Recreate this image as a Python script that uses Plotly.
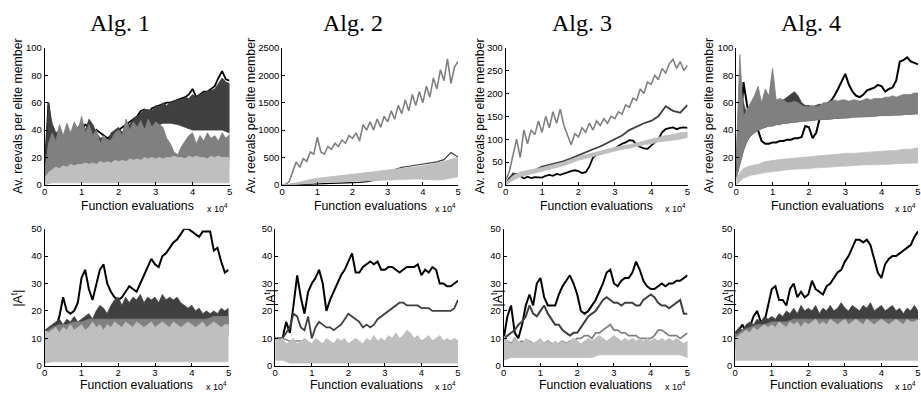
import plotly.graph_objects as go

W, H = 921, 398
BLACK, DARK, MID, LIGHT = '#000000', '#404040', '#808080', '#bfbfbf'

# sample positions (function evaluations)
X_FINE = list(range(0, 50001, 1000))    # 51 samples
X_COARSE = list(range(0, 50001, 2000))  # 26 samples
X_TICKS = [0, 10000, 20000, 30000, 40000, 50000]
X_TICKTEXT = ['0', '1', '2', '3', '4', '5']

TITLES = ['Alg. 1', 'Alg. 2', 'Alg. 3', 'Alg. 4']
TOP_YMAX = [100, 2500, 300, 100]
TOP_YTICKS = [[0, 20, 40, 60, 80, 100],
              [0, 500, 1000, 1500, 2000, 2500],
              [0, 50, 100, 150, 200, 250, 300],
              [0, 20, 40, 60, 80, 100]]
BOT_YMAX = 50
BOT_YTICKS = [0, 10, 20, 30, 40, 50]

# ---------------- Alg. 1, top ----------------
A1T_BLACK = [8, 60, 35, 25, 18, 17, 25, 30, 35, 38, 40, 44, 42, 32, 40, 38, 36, 34, 36, 38, 40, 42, 44, 46, 48, 50,
             54, 55, 52, 56, 57, 58, 59, 60, 60, 61, 62, 63, 64, 66, 70, 64, 66, 68, 68, 70, 72, 78, 83, 77, 76]
A1T_DARK_LO = [5, 25, 25, 28, 30, 30, 35, 32, 30, 30, 32, 35, 38, 40, 42, 43, 45, 45, 44, 42, 40, 40, 40, 40, 40, 38]
A1T_DARK_HI = [10, 60, 45, 38, 40, 35, 38, 33, 40, 42, 46, 40, 48, 44, 38, 34, 35, 32, 38, 40, 42, 38, 45, 44, 48, 50,
               52, 55, 55, 54, 58, 57, 60, 58, 60, 61, 62, 62, 64, 63, 66, 64, 66, 67, 68, 69, 70, 74, 78, 75, 74]
A1T_MID_LO = [3, 10, 11, 12, 12, 13, 13, 14, 14, 15, 15, 16, 16, 17, 17, 17, 17, 18, 18, 18, 18, 18, 18, 18, 18, 18]
A1T_MID_HI = [10, 30, 38, 32, 44, 36, 45, 38, 46, 40, 50, 38, 44, 36, 40, 30, 36, 32, 33, 38, 40, 36, 48, 40, 46, 42,
              47, 40, 48, 42, 46, 44, 42, 34, 30, 24, 22, 28, 32, 36, 38, 30, 36, 32, 38, 34, 36, 32, 38, 34, 37]
A1T_LIGHT_LO = [0, 1.5, 1.5, 1.5, 1.5, 1.5, 1.5, 1.5, 1.5, 1.5, 1.5, 1.5, 1.5, 1.5, 1.5, 1.5, 1.5, 1.5, 1.5, 1.5,
                1.5, 1.5, 1.5, 1.5, 1.5, 1.5]
A1T_LIGHT_HI = [5, 9, 11, 13, 12, 14, 13, 15, 14, 15, 15, 16, 15, 16, 15, 17, 16, 17, 16, 18, 17, 18, 17, 19, 18, 19,
                18, 20, 19, 20, 19, 20, 19, 20, 20, 21, 20, 20, 19, 21, 20, 21, 20, 20, 19, 21, 20, 21, 20, 20, 20]

# ---------------- Alg. 2, top ----------------
A2T_BLACK = [0, 0, 5, 10, 15, 20, 22, 25, 28, 30, 35, 45, 60, 80, 100, 125, 150, 175, 200, 240, 275, 290, 300, 315,
             335, 360]
A2T_DARK = [0, 5, 25, 50, 70, 90, 100, 105, 115, 125, 137, 155, 180, 205, 225, 245, 280, 320, 340, 360, 375, 395,
            420, 460, 590, 510]
A2T_MID = [0, 10, 60, 250, 420, 320, 480, 430, 600, 560, 870, 600, 560, 700, 650, 760, 700, 820, 760, 900, 850, 950,
           800, 1100, 1000, 1150, 1000, 1200, 1050, 1250, 1150, 1350, 1200, 1450, 1300, 1550, 1350, 1650, 1450, 1700,
           1500, 1800, 1600, 1950, 1750, 2100, 1900, 2300, 1850, 2150, 2250]
A2T_LIGHT_LO = [0, 0, 5, 15, 25, 40, 50, 55, 60, 65, 70, 75, 80, 85, 90, 95, 100, 100, 105, 110, 110, 100, 90, 100,
                120, 150]
A2T_LIGHT_HI = [0, 5, 35, 70, 100, 120, 135, 150, 165, 180, 195, 210, 225, 240, 250, 260, 275, 290, 310, 330, 350,
                370, 395, 430, 470, 500]

# ---------------- Alg. 3, top ----------------
A3T_BLACK = [0, 15, 22, 18, 20, 14, 18, 15, 17, 16, 16, 20, 22, 20, 24, 22, 25, 28, 30, 32, 30, 26, 28, 40, 60, 66,
             68, 72, 74, 77, 79, 85, 90, 93, 98, 97, 88, 83, 80, 79, 86, 92, 100, 115, 122, 124, 126, 122, 125, 126, 125]
A3T_DARK = [0, 25, 22, 28, 32, 40, 44, 48, 52, 58, 65, 72, 78, 84, 92, 100, 108, 120, 128, 135, 140, 150, 172, 162,
            158, 175]
A3T_MID = [10, 30, 65, 100, 60, 120, 90, 120, 110, 140, 115, 150, 125, 160, 135, 166, 130, 110, 88, 112, 105, 125,
           115, 135, 120, 140, 130, 145, 135, 150, 145, 160, 155, 175, 170, 190, 185, 210, 200, 225, 220, 240, 230,
           255, 245, 265, 275, 255, 270, 250, 262]
A3T_LIGHT_LO = [0, 10, 18, 22, 26, 30, 34, 38, 42, 48, 54, 58, 62, 66, 70, 74, 78, 80, 84, 88, 90, 94, 96, 98, 100, 104]
A3T_LIGHT_HI = [5, 20, 28, 32, 35, 38, 42, 46, 50, 56, 62, 66, 70, 74, 78, 82, 86, 88, 92, 96, 100, 104, 108, 110,
                114, 116]

# ---------------- Alg. 4, top ----------------
A4T_BLACK = [10, 30, 75, 58, 45, 42, 40, 32, 30, 30, 31, 31, 32, 32, 33, 33, 34, 34, 35, 43, 42, 34, 38, 49, 52, 56,
             61, 65, 70, 76, 81, 73, 68, 65, 64, 66, 69, 70, 71, 73, 72, 68, 70, 71, 76, 90, 91, 93, 90, 89, 88]
A4T_DARK_HI = [20, 70, 60, 50, 55, 55, 60, 58, 60, 60, 62, 60, 60, 62, 64, 66, 68, 65, 60, 58, 58, 57, 58, 59, 58, 60,
               62, 60, 61, 61, 60, 61, 60, 60, 61, 61, 60, 61, 62, 61, 62, 62, 61, 62, 63, 62, 63, 63, 64, 64, 65]
A4T_MID_LO = [5, 15, 25, 32, 36, 38, 40, 41, 42, 43, 43, 44, 44, 45, 45, 45.5, 46, 46, 46.5, 46.5,
              47, 47, 47.5, 47.5, 48, 48, 48, 48.5, 48.5, 49, 49, 49, 49.5, 49.5, 49.5, 50, 50, 50, 50, 50.5,
              50.5, 50.5, 50.5, 51, 51, 51, 51, 51.5, 51.5, 51.5, 52]
A4T_MID_HI = [20, 95, 50, 55, 60, 65, 72, 60, 70, 65, 85, 62, 63, 62, 60, 60, 61, 60, 58, 57, 57, 58, 57, 58, 60, 60,
              61, 62, 61, 62, 62, 61, 62, 62, 61, 62, 63, 62, 63, 63, 63, 64, 64, 65, 64, 65, 66, 66, 66, 67, 67]
A4T_LIGHT_LO = [0, 5, 7, 8, 9, 10, 10.5, 11, 11.5, 12, 12, 12.5, 13, 13, 13.5, 14, 14, 14.5, 14.5, 15, 15, 15, 15.5,
                15.5, 16, 16]
A4T_LIGHT_HI = [5, 12, 14, 15, 17, 18, 18.5, 19, 19.5, 20, 21, 21, 22, 22, 22.5, 23, 23, 23.5, 24, 24, 24.5, 25, 25,
                26, 26, 27]

# ---------------- Alg. 1, bottom ----------------
A1B_BLACK = [13, 12, 10, 14, 18, 25, 20, 19, 20, 23, 32, 35, 28, 24, 30, 35, 37, 30, 27, 25, 24, 25, 27, 29, 28, 27,
             30, 33, 36, 39, 37, 36, 40, 41, 43, 45, 46, 48, 50, 50, 49, 48, 47, 49, 49, 49, 42, 43, 38, 34, 35]
A1B_DARK_LO = [10, 12, 13, 13, 14, 14, 14, 14, 15, 15, 15, 15, 15, 15, 15, 15, 15, 15, 15, 15, 15, 15, 15, 15, 15, 15]
A1B_DARK_HI = [13, 14, 15, 16, 17, 15, 17, 16, 18, 16, 17, 18, 19, 17, 20, 22, 21, 19, 22, 24, 25, 22, 25, 23, 25, 24,
               26, 23, 25, 24, 25, 23, 26, 24, 25, 24, 25, 23, 22, 21, 22, 20, 21, 19, 20, 19, 20, 19, 21, 20, 21]
A1B_MID_LO = [8, 10, 10, 11, 11, 11, 11, 11, 11, 11, 11, 11, 11, 11, 11, 11, 11, 11, 11, 11, 11, 11, 11, 11, 11, 11]
A1B_MID_HI = [12, 14, 15, 15, 16, 16, 17, 17, 17, 17, 17, 17, 17, 17, 17, 17, 17, 17, 17, 17, 17, 17, 17, 18, 18, 18]
A1B_LIGHT_LO = [1, 1.5, 1.5, 1.5, 1.5, 1.5, 1.5, 1.5, 1.5, 1.5, 1.5, 1.5, 1.5, 1.5, 1.5, 1.5, 1.5, 1.5, 1.5, 1.5,
                1.5, 1.5, 1.5, 1.5, 1.5, 1.5]
A1B_LIGHT_HI = [13, 12, 13, 14, 12, 14, 13, 15, 13, 14, 15, 13, 14, 16, 14, 15, 13, 15, 14, 16, 15, 14, 16, 15, 14, 16,
                15, 14, 15, 16, 14, 15, 16, 15, 14, 16, 15, 14, 15, 16, 15, 14, 15, 16, 14, 15, 16, 15, 14, 15, 15]

# ---------------- Alg. 2, bottom ----------------
A2B_BLACK = [10, 10, 10, 16, 12, 22, 33, 25, 19, 27, 30, 32, 35, 30, 20, 24, 27, 30, 33, 35, 38, 41, 34, 34, 36, 37,
             38, 37, 38, 35, 35, 36, 36, 35, 34, 35, 36, 36, 36, 37, 33, 35, 34, 36, 35, 30, 30, 29, 29, 30, 31]
A2B_DARK = [10, 10, 10, 12, 14, 19, 18, 14, 13, 18, 10, 14, 16, 15, 14, 14, 13, 14, 15, 17, 19, 18, 17, 16, 14, 15,
            14, 15, 17, 18, 19, 20, 21, 22, 23, 23, 22, 22, 22, 22, 21, 21, 21, 20, 20, 20, 20, 20, 20, 21, 24]
A2B_MID = [10, 10, 9, 9, 9, 8, 8, 8, 8, 8, 8, 8, 8, 7, 8, 8, 9, 9, 9, 9, 9, 9, 9, 9, 9, 9]
A2B_LIGHT_LO = [2, 2, 1, 1, 1, 1, 1, 1, 1, 1, 1, 1, 1, 1, 1, 1, 1, 1, 1, 1, 1, 1, 1, 1, 1, 1]
A2B_LIGHT_HI = [11, 9, 10, 8, 9, 10, 8, 9, 10, 9, 8, 10, 9, 8, 10, 9, 8, 10, 9, 10, 8, 9, 10, 9, 8, 10,
                9, 11, 9, 10, 9, 11, 10, 12, 10, 11, 13, 12, 10, 11, 9, 10, 11, 9, 10, 11, 9, 10, 9, 10, 9]

# ---------------- Alg. 3, bottom ----------------
A3B_BLACK = [10, 18, 22, 12, 10, 15, 22, 26, 22, 30, 32, 25, 22, 22, 22, 26, 29, 31, 33, 30, 26, 20, 19, 20, 22, 24,
             27, 30, 34, 35, 30, 29, 31, 32, 32, 34, 38, 35, 31, 29, 28, 28, 29, 30, 29, 30, 30, 31, 31, 32, 33]
A3B_DARK = [10, 11, 12, 13, 15, 16, 18, 22, 19, 18, 20, 22, 19, 17, 15, 15, 13, 12, 11, 12, 12, 14, 16, 18, 19, 20,
            22, 24, 25, 24, 23, 23, 22, 23, 23, 23, 22, 22, 24, 25, 26, 25, 23, 22, 22, 21, 22, 23, 24, 19, 19]
A3B_MID = [8, 9, 8, 10, 8, 9, 8, 9, 8, 8, 9, 8, 9, 8, 8, 8, 9, 8, 9, 9, 10, 10, 11, 11, 10, 12, 12, 13, 14, 15, 13,
           13, 12, 12, 11, 11, 11, 10, 10, 10, 10, 11, 13, 13, 12, 11, 11, 11, 10, 11, 12]
A3B_LIGHT_LO = [2, 3, 3, 3, 3, 3, 3, 3, 3, 3, 3, 3, 3, 4, 4, 4, 4, 4, 4, 4, 4, 4, 4, 4, 4, 3]
A3B_LIGHT_HI = [11, 9, 8, 10, 9, 8, 10, 9, 8, 9, 10, 8, 9, 8, 9, 8, 9, 8, 9, 10, 9, 8, 9, 10, 9, 10,
                11, 10, 9, 10, 11, 10, 9, 10, 9, 10, 9, 10, 9, 10, 9, 10, 9, 10, 9, 10, 9, 10, 9, 8, 9]

# ---------------- Alg. 4, bottom ----------------
A4B_BLACK = [12, 13, 15, 12, 14, 18, 20, 16, 16, 22, 28, 29, 24, 24, 22, 28, 30, 25, 27, 25, 26, 31, 28, 27, 26, 29,
             30, 32, 34, 35, 38, 40, 43, 46, 46, 45, 46, 44, 39, 34, 32, 37, 39, 40, 40, 41, 42, 43, 44, 47, 49]
A4B_DARK_LO = [8, 10, 11, 12, 12, 12, 13, 13, 13, 13, 13, 14, 14, 14, 14, 14, 14, 14, 14, 14, 14, 14, 14, 14, 14, 14]
A4B_DARK_HI = [12, 14, 13, 15, 16, 15, 17, 16, 18, 17, 18, 17, 19, 18, 20, 19, 21, 19, 22, 20, 21, 20, 22, 19, 21, 20,
               22, 20, 21, 23, 21, 20, 22, 21, 20, 22, 21, 23, 20, 21, 22, 20, 21, 22, 20, 21, 19, 21, 20, 22, 20]
A4B_MID_LO = [6, 8, 9, 10, 10, 10, 10, 11, 11, 11, 11, 11, 11, 11, 11, 11, 11, 11, 11, 11, 11, 11, 11, 11, 11, 11]
A4B_MID_HI = [11, 13, 14, 15, 15, 16, 16, 16, 17, 17, 17, 17, 17, 17, 17, 17, 17, 17, 17, 17, 17, 17, 17, 17, 17, 17]
A4B_LIGHT_LO = [2, 2, 2, 2, 2, 2, 2, 2, 2, 2, 2, 2, 2, 2, 2, 2, 2, 2, 2, 2, 2, 2, 2, 2, 2, 2]
A4B_LIGHT_HI = [10, 11, 12, 13, 12, 14, 13, 14, 15, 14, 15, 14, 16, 15, 14, 16, 15, 16, 14, 16, 15, 16, 17, 15, 16, 15,
                17, 16, 15, 16, 17, 15, 16, 17, 16, 15, 17, 16, 15, 16, 17, 16, 15, 16, 17, 16, 15, 17, 16, 16, 17]

F, C = X_FINE, X_COARSE
# series specs per panel (drawing order: black, dark, mid, light)
# ('line', colour, x, y, width) or ('band', colour, x_lo, lo, x_hi, hi)
PANELS = [
    [('line', BLACK, F, A1T_BLACK, 1.8),
     ('band', DARK, C, A1T_DARK_LO, F, A1T_DARK_HI),
     ('band', MID, C, A1T_MID_LO, F, A1T_MID_HI),
     ('band', LIGHT, C, A1T_LIGHT_LO, F, A1T_LIGHT_HI)],
    [('line', BLACK, C, A2T_BLACK, 1.2),
     ('line', DARK, C, A2T_DARK, 1.2),
     ('line', MID, F, A2T_MID, 1.6),
     ('band', LIGHT, C, A2T_LIGHT_LO, C, A2T_LIGHT_HI)],
    [('line', BLACK, F, A3T_BLACK, 1.8),
     ('line', DARK, C, A3T_DARK, 1.8),
     ('line', MID, F, A3T_MID, 1.6),
     ('band', LIGHT, C, A3T_LIGHT_LO, C, A3T_LIGHT_HI)],
    [('line', BLACK, F, A4T_BLACK, 2.0),
     ('band', DARK, F, A4T_MID_LO, F, A4T_DARK_HI),
     ('band', MID, F, A4T_MID_LO, F, A4T_MID_HI),
     ('band', LIGHT, C, A4T_LIGHT_LO, C, A4T_LIGHT_HI)],
    [('line', BLACK, F, A1B_BLACK, 2.0),
     ('band', DARK, C, A1B_DARK_LO, F, A1B_DARK_HI),
     ('band', MID, C, A1B_MID_LO, C, A1B_MID_HI),
     ('band', LIGHT, C, A1B_LIGHT_LO, F, A1B_LIGHT_HI)],
    [('line', BLACK, F, A2B_BLACK, 2.0),
     ('line', DARK, F, A2B_DARK, 1.8),
     ('line', MID, C, A2B_MID, 1.5),
     ('band', LIGHT, C, A2B_LIGHT_LO, F, A2B_LIGHT_HI)],
    [('line', BLACK, F, A3B_BLACK, 2.0),
     ('line', DARK, F, A3B_DARK, 2.0),
     ('line', MID, F, A3B_MID, 1.8),
     ('band', LIGHT, C, A3B_LIGHT_LO, F, A3B_LIGHT_HI)],
    [('line', BLACK, F, A4B_BLACK, 2.0),
     ('band', DARK, C, A4B_DARK_LO, F, A4B_DARK_HI),
     ('band', MID, C, A4B_MID_LO, C, A4B_MID_HI),
     ('band', LIGHT, C, A4B_LIGHT_LO, F, A4B_LIGHT_HI)],
]

# layout geometry (pixels)
TOP_X = [(42, 228), (281, 458), (506, 689), (738, 921)]
BOT_X = [(42, 227), (274, 458), (504, 689), (737, 921)]
TOP_Y = (43, 184)
BOT_Y = (229, 370)

TICKFONT = dict(family='Liberation Sans, Arial, sans-serif', size=9.5, color='black')
LABFONT = dict(family='Liberation Sans, Arial, sans-serif', size=12.3, color='black')


def px(v):
    return v / W


def py(v):
    return 1 - v / H


fig = go.Figure()
layout = dict(width=W, height=H, margin=dict(l=0, r=0, t=0, b=0),
              paper_bgcolor='white', plot_bgcolor='white', showlegend=False)

for k, series in enumerate(PANELS):
    n = k + 1
    xname = 'x' if n == 1 else f'x{n}'
    yname = 'y' if n == 1 else f'y{n}'
    top = k < 4
    c = k % 4
    for s in series:
        if s[0] == 'line':
            _, col, xs, ys, w = s
            fig.add_trace(go.Scatter(x=xs, y=ys, mode='lines', line=dict(color=col, width=w),
                                     xaxis=xname, yaxis=yname, hoverinfo='skip'))
        else:
            _, col, xlo, lo, xhi, hi = s
            fig.add_trace(go.Scatter(x=list(xhi) + list(xlo)[::-1], y=list(hi) + list(lo)[::-1],
                                     mode='lines', fill='toself', fillcolor=col,
                                     line=dict(color=col, width=0.8),
                                     xaxis=xname, yaxis=yname, hoverinfo='skip'))
    xd = TOP_X[c] if top else BOT_X[c]
    yd = TOP_Y if top else BOT_Y
    ymax = TOP_YMAX[c] if top else BOT_YMAX
    yt = TOP_YTICKS[c] if top else BOT_YTICKS
    layout['xaxis' if n == 1 else f'xaxis{n}'] = dict(
        domain=[px(xd[0]), px(xd[1])], range=[0, 50000], tickvals=X_TICKS, ticktext=X_TICKTEXT,
        ticks='inside', ticklen=3, tickcolor='black', showline=True, linecolor='black', linewidth=1,
        showgrid=False, zeroline=False, tickfont=TICKFONT, anchor=yname, ticklabelstandoff=-2)
    layout['yaxis' if n == 1 else f'yaxis{n}'] = dict(
        domain=[py(yd[1]), py(yd[0])], range=[0, ymax], tickvals=yt,
        ticks='inside', ticklen=3, tickcolor='black', showline=True, linecolor='black', linewidth=1,
        showgrid=False, zeroline=False, tickfont=TICKFONT, anchor=xname)

ann = []
TITLE_X = [118, 352, 583, 813]
for c in range(4):
    ann.append(dict(text=TITLES[c], x=px(TITLE_X[c]), y=py(17), xref='paper', yref='paper',
                    showarrow=False, xanchor='center', yanchor='middle',
                    font=dict(family='Liberation Serif, Times New Roman, serif', size=24, color='black')))
YLAB_TOP_X = [15, 249, 480, 711]
YLAB_BOT_X = [14, 268, 497, 729]
for c in range(4):
    ann.append(dict(text='Av. reevals per elite member', x=px(YLAB_TOP_X[c]), y=py(113), xref='paper',
                    yref='paper', showarrow=False, textangle=-90, xanchor='center', yanchor='middle',
                    font=LABFONT))
    ann.append(dict(text='|A<sup>t</sup>|', x=px(YLAB_BOT_X[c]), y=py(300), xref='paper',
                    yref='paper', showarrow=False, textangle=-90, xanchor='center', yanchor='middle',
                    font=LABFONT))
for row, (xs_dom, ylab, yexp) in enumerate([(TOP_X, 205.5, 208), (BOT_X, 389.5, 391)]):
    for c in range(4):
        x0, x1 = xs_dom[c]
        ann.append(dict(text='Function evaluations', x=px((x0 + x1) / 2), y=py(ylab), xref='paper',
                        yref='paper', showarrow=False, xanchor='center', yanchor='middle', font=LABFONT))
        ann.append(dict(text='x 10<sup>4</sup>', x=px(x1 - 25), y=py(yexp), xref='paper', yref='paper',
                        showarrow=False, xanchor='left', yanchor='middle',
                        font=dict(family='Liberation Sans, Arial, sans-serif', size=9, color='black')))
layout['annotations'] = ann
fig.update_layout(**layout)
fig.write_html('out.html')
